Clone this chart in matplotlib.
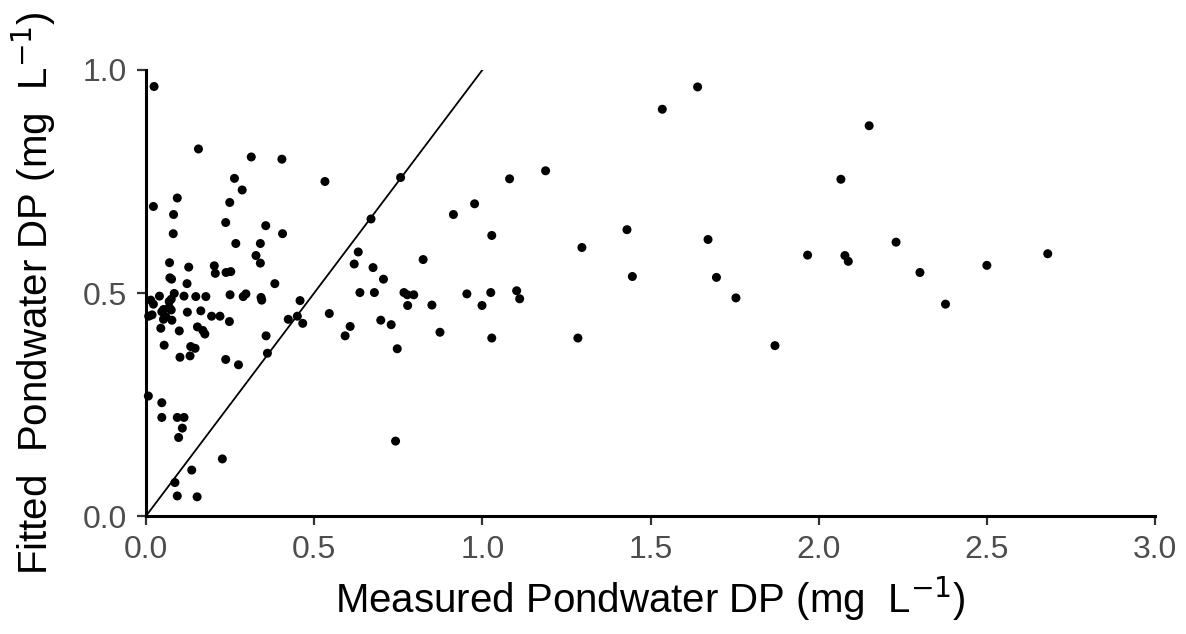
import matplotlib
matplotlib.use("Agg")
import matplotlib.pyplot as plt

# Measured vs fitted pondwater DP (mg/L)
measured = [
    0.024, 0.156, 0.313, 0.404, 0.263, 0.286, 0.093, 0.022, 0.249, 0.082,
    0.237, 0.356, 0.081, 0.406, 0.267, 0.340, 0.327, 0.340, 0.070, 0.127,
    0.203, 0.206, 0.071, 0.076, 0.238, 0.252, 0.122, 0.383,
    0.014, 0.022, 0.040, 0.084, 0.069, 0.075, 0.113, 0.148, 0.178, 0.250,
    0.289, 0.297, 0.342, 0.344, 0.458,
    0.008, 0.018, 0.047, 0.052, 0.059, 0.069, 0.075, 0.052, 0.077, 0.044,
    0.123, 0.163, 0.195, 0.220, 0.248, 0.099, 0.153, 0.169, 0.175, 0.054,
    0.133, 0.146, 0.101, 0.131, 0.237, 0.275, 0.357, 0.361, 0.423, 0.450,
    0.466, 0.545,
    0.007, 0.047, 0.047, 0.093, 0.113, 0.108, 0.097, 0.227, 0.136, 0.086,
    0.093, 0.152,
    0.532, 0.757, 1.081, 1.188, 0.977, 0.914, 1.028, 0.669, 0.631, 0.619,
    0.675, 0.824, 0.706, 0.636, 0.679, 0.767, 0.777, 0.796, 0.778, 0.850,
    0.954, 1.025, 0.999, 1.102, 1.111, 0.607, 0.592, 0.698, 0.729, 0.874,
    1.028, 0.747, 0.742,
    1.640, 1.535, 1.430, 1.296, 1.671, 1.967, 1.446, 1.696, 1.754, 1.284,
    1.870, 2.150, 2.066, 2.230, 2.078, 2.088, 2.301, 2.500, 2.681, 2.377,
]
fitted = [
    0.963, 0.823, 0.805, 0.800, 0.757, 0.731, 0.713, 0.694, 0.703, 0.676,
    0.658, 0.651, 0.633, 0.633, 0.611, 0.611, 0.584, 0.567, 0.568, 0.558,
    0.561, 0.544, 0.534, 0.531, 0.546, 0.548, 0.521, 0.521,
    0.484, 0.475, 0.493, 0.499, 0.481, 0.486, 0.493, 0.492, 0.492, 0.496,
    0.492, 0.498, 0.490, 0.484, 0.483,
    0.448, 0.451, 0.458, 0.463, 0.447, 0.468, 0.462, 0.441, 0.439, 0.421,
    0.457, 0.460, 0.448, 0.448, 0.436, 0.415, 0.424, 0.416, 0.408, 0.383,
    0.380, 0.376, 0.356, 0.359, 0.351, 0.339, 0.404, 0.365, 0.441, 0.448,
    0.432, 0.454,
    0.269, 0.254, 0.221, 0.221, 0.221, 0.197, 0.176, 0.128, 0.103, 0.075,
    0.045, 0.043,
    0.750, 0.759, 0.756, 0.774, 0.700, 0.676, 0.629, 0.666, 0.592, 0.565,
    0.557, 0.575, 0.531, 0.501, 0.501, 0.501, 0.496, 0.496, 0.472, 0.473,
    0.498, 0.501, 0.472, 0.505, 0.487, 0.425, 0.404, 0.439, 0.429, 0.412,
    0.399, 0.375, 0.168,
    0.962, 0.912, 0.642, 0.602, 0.620, 0.585, 0.537, 0.535, 0.489, 0.399,
    0.382, 0.875, 0.755, 0.614, 0.584, 0.571, 0.546, 0.562, 0.588, 0.475,
]

# 1:1 reference line
one_to_one = [0, 1]

x_ticks = [0.0, 0.5, 1.0, 1.5, 2.0, 2.5, 3.0]
y_ticks = [0.0, 0.5, 1.0]

plt.rcParams["font.family"] = ["Liberation Sans", "DejaVu Sans"]

fig = plt.figure(figsize=(11.86, 6.34), dpi=100)
ax = fig.add_axes([0.1231, 0.1861, 0.8508, 0.7035])

ax.plot(one_to_one, one_to_one, color="black", lw=1.3, zorder=2)
ax.scatter(measured, fitted, s=42, color="black", edgecolors="none",
           clip_on=False, zorder=3)

ax.set_xlim(0, 3)
ax.set_ylim(0, 1)
ax.set_xticks(x_ticks)
ax.set_yticks(y_ticks)
ax.set_xticklabels([f"{v:.1f}" for v in x_ticks])
ax.set_yticklabels([f"{v:.1f}" for v in y_ticks])

for side in ["top", "right"]:
    ax.spines[side].set_visible(False)
for side in ["left", "bottom"]:
    ax.spines[side].set_linewidth(2.2)
    ax.spines[side].set_color("black")

ax.tick_params(axis="both", direction="out", length=6.5, width=1.6,
               color="#333333", labelcolor="#4D4D4D", labelsize=23, pad=7)

ax.set_xlabel("Measured Pondwater DP (mg  L$^{-1}$)", fontsize=29, labelpad=7)
ax.set_ylabel("Fitted  Pondwater DP (mg  L$^{-1}$)", fontsize=29, labelpad=18)

fig.savefig("out.png", dpi=100)
